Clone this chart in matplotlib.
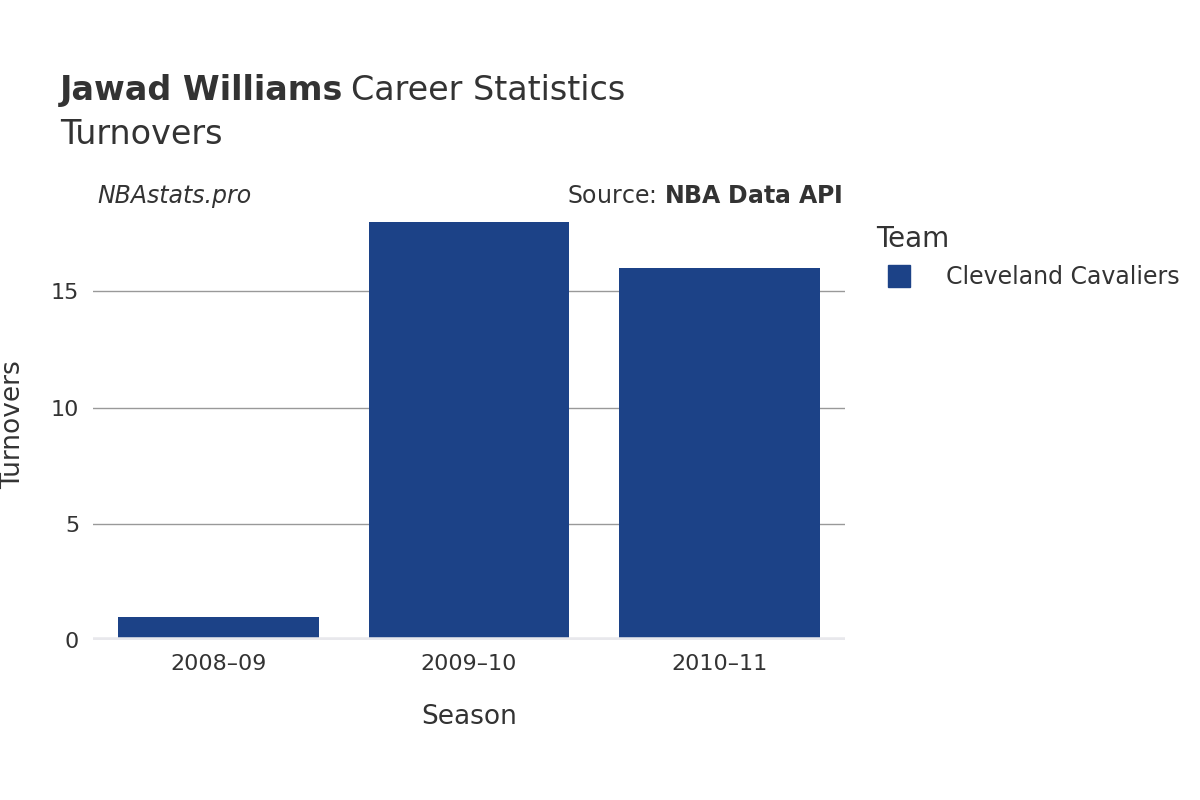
import matplotlib
matplotlib.use("Agg")
import matplotlib.pyplot as plt
from matplotlib.lines import Line2D

seasons = ["2008–09", "2009–10", "2010–11"]
turnovers = [1, 18, 16]
team = "Cleveland Cavaliers"
color = "#1c4287"

fig = plt.figure(figsize=(12, 8), dpi=100)
ax = fig.add_axes([0.0775, 0.2, 0.6267, 0.5375])
x = range(len(seasons))
ax.bar(x, turnovers, width=0.8, color=color, zorder=3)
ax.set_xlim(-0.5, 2.5)
ax.set_ylim(0, 18.5)
ax.set_yticks([0, 5, 10, 15])
ax.set_xticks(list(x))
ax.set_xticklabels(seasons)
ax.grid(axis="y", color="#999999", linewidth=1, zorder=0)
ax.axhline(0, color="#e8e8ec", linewidth=4, zorder=4)
for s in ax.spines.values():
    s.set_visible(False)
ax.tick_params(length=0, labelsize=16, colors="#333333", pad=10)
ax.set_xlabel("Season", fontsize=19, color="#333333", labelpad=22)
ax.set_ylabel("Turnovers", fontsize=19, color="#333333", labelpad=18)

fig.text(0.05, 0.875, "Jawad Williams", fontsize=24, fontweight="bold", color="#333333")
fig.text(0.2925, 0.875, "Career Statistics", fontsize=24, color="#333333")
fig.text(0.05, 0.82, "Turnovers", fontsize=24, color="#333333")
fig.text(0.081, 0.746, "NBAstats.pro", fontsize=17, style="italic", color="#333333")
fig.text(0.702, 0.746, "Source: $\\bf{NBA\\ Data\\ API}$", fontsize=17, color="#333333", ha="right")

handle = Line2D([], [], marker="s", linestyle="", markersize=16, color=color)
leg = fig.legend([handle], [team], loc="upper left", bbox_to_anchor=(0.712, 0.745),
                 frameon=False, fontsize=17, title="Team", title_fontsize=20,
                 handletextpad=1.0, labelcolor="#333333")
leg._legend_box.align = "left"
leg.get_title().set_color("#333333")

fig.savefig("out.png")
